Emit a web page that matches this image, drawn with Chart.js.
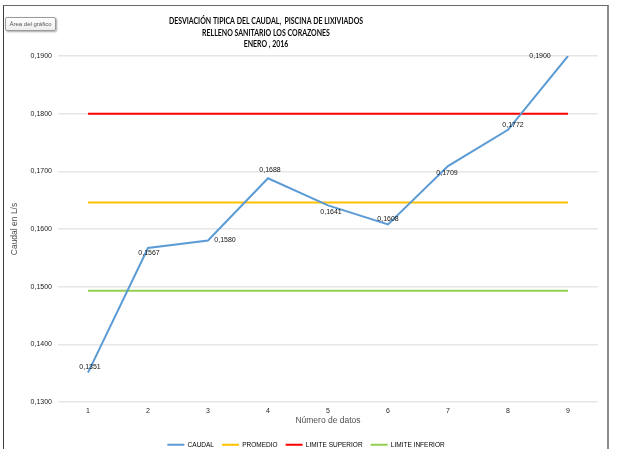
<!DOCTYPE html>
<html>
<head>
<meta charset="utf-8">
<script src="https://cdn.jsdelivr.net/npm/chart.js@4.4.1/dist/chart.umd.min.js"></script>
<style>
  html, body { margin: 0; padding: 0; background: #ffffff; overflow: hidden; }
  #wrap { position: relative; width: 618px; height: 449px; overflow: hidden; background: #fff; }
  #box { position: absolute; left: 0; top: 0; width: 618px; height: 458px; }
  #frame {
    position: absolute; left: 3px; top: 5px; width: 603px; height: 460px;
    border-left: 1px solid #3c3c3c; border-top: 1px solid #6a6a6a; border-right: 2px solid #8c8c8c;
    pointer-events: none;
  }
  #hint {
    position: absolute; left: 5px; top: 17px; width: 49px; height: 12px;
    border: 1px solid #9a9a9a; border-radius: 2px;
    background: linear-gradient(#ffffff, #eeeeee);
    box-shadow: 1px 1px 2px rgba(0,0,0,0.35);
    font: 6px "Liberation Sans", Arial, sans-serif; color: #555;
    line-height: 12px; text-align: center; white-space: nowrap; overflow: hidden;
  }
</style>
</head>
<body>
<div id="wrap">
  <div id="box"><canvas id="chart" width="618" height="458"></canvas></div>
  <div id="frame"></div>
  <div id="hint">Área del gráfico</div>
</div>
<script>
// Número de datos (eje X)
const categories = ['1', '2', '3', '4', '5', '6', '7', '8', '9'];
// Caudal medido en L/s
const caudal = [0.1351, 0.1567, 0.1580, 0.1688, 0.1641, 0.1608, 0.1709, 0.1772, 0.1900];
// Media y límites (± una desviación típica)
const promedio = [0.1646, 0.1646, 0.1646, 0.1646, 0.1646, 0.1646, 0.1646, 0.1646, 0.1646];
const limiteSuperior = [0.1800, 0.1800, 0.1800, 0.1800, 0.1800, 0.1800, 0.1800, 0.1800, 0.1800];
const limiteInferior = [0.1493, 0.1493, 0.1493, 0.1493, 0.1493, 0.1493, 0.1493, 0.1493, 0.1493];
// Etiquetas del eje Y
const yTickValues = [0.13, 0.14, 0.15, 0.16, 0.17, 0.18, 0.19];
const yTickLabels = ['0,1300', '0,1400', '0,1500', '0,1600', '0,1700', '0,1800', '0,1900'];
// Título
const titleLines = ['DESVIACIÓN TIPICA DEL CAUDAL,  PISCINA DE LIXIVIADOS', 'RELLENO SANITARIO LOS CORAZONES', 'ENERO , 2016'];

// Desplazamiento de cada etiqueta de valor respecto a su punto (px)
const labelShift = [[2, -6], [1, 5], [17, 0], [2, -8], [3, 7], [0, -5], [-1, 7], [5, -5], [-28, 0]];

const fmt = v => v.toFixed(4).replace('.', ',');

// Título en tres líneas, con letra estrecha
const titlePlugin = {
  id: 'titleBlock',
  afterDraw(chart) {
    const ctx = chart.ctx;
    const sx = 0.82;
    ctx.save();
    ctx.scale(sx, 1);
    ctx.fillStyle = '#0a0a0a';
    ctx.font = 'bold 8.5px Lato, "Liberation Sans", sans-serif';
    ctx.textAlign = 'center';
    ctx.textBaseline = 'middle';
    const ys = [21, 33, 44];
    titleLines.forEach((t, i) => ctx.fillText(t, 266 / sx, ys[i]));
    ctx.restore();
  }
};

const valueLabels = {
  id: 'valueLabels',
  afterDatasetsDraw(chart) {
    const meta = chart.getDatasetMeta(0);
    const ctx = chart.ctx;
    ctx.save();
    ctx.fillStyle = '#111111';
    ctx.font = '7px "Liberation Sans", Arial, sans-serif';
    ctx.textAlign = 'center';
    ctx.textBaseline = 'middle';
    meta.data.forEach((pt, i) => {
      const [dx, dy] = labelShift[i];
      ctx.fillText(fmt(caudal[i]), pt.x + dx, pt.y + dy);
    });
    ctx.restore();
  }
};

const series = (label, data, color, order) => ({
  label, data, borderColor: color, backgroundColor: color,
  borderWidth: 2, pointRadius: 0, pointHoverRadius: 0, tension: 0, fill: false, order
});

new Chart(document.getElementById('chart'), {
  type: 'line',
  data: {
    labels: categories,
    datasets: [
      series('CAUDAL', caudal, '#5B9BD5', 0),
      series('PROMEDIO', promedio, '#FFC000', 1),
      series('LIMITE SUPERIOR', limiteSuperior, '#FF0000', 2),
      series('LIMITE INFERIOR', limiteInferior, '#92D050', 3)
    ]
  },
  options: {
    responsive: false,
    animation: false,
    devicePixelRatio: 1,
    layout: { padding: { left: 14, right: 20, top: 56, bottom: 0 } },
    plugins: {
      title: { display: false },
      tooltip: { enabled: false },
      legend: {
        position: 'bottom',
        labels: {
          boxWidth: 17,
          boxHeight: 2,
          padding: 8,
          color: '#595959',
          font: { family: '"Liberation Sans", Arial, sans-serif', size: 6.5 },
          generateLabels(chart) {
            return chart.data.datasets.map((ds, i) => ({
              text: ds.label, fillStyle: ds.borderColor, strokeStyle: ds.borderColor,
              lineWidth: 0, hidden: false, datasetIndex: i
            }));
          }
        }
      }
    },
    scales: {
      x: {
        offset: true,
        grid: { display: false, drawTicks: false },
        border: { display: false },
        ticks: { color: '#262626', padding: 5, font: { family: '"Liberation Sans", Arial, sans-serif', size: 7 } },
        title: {
          display: true, text: 'Número de datos', color: '#505050',
          font: { family: '"Liberation Sans", Arial, sans-serif', size: 8.5 },
          padding: { top: 0, bottom: 7.5 }
        },
        afterFit(scale) { scale.height = 31.5; }
      },
      y: {
        min: 0.13, max: 0.19,
        afterBuildTicks(scale) { scale.ticks = yTickValues.map(v => ({ value: v })); },
        grid: { color: '#e6e6e6', lineWidth: 1.5, drawTicks: false },
        border: { display: false },
        ticks: {
          color: '#1a1a1a', padding: 6,
          font: { family: '"Liberation Sans", Arial, sans-serif', size: 7 },
          callback: (v, i) => yTickLabels[i]
        },
        title: {
          display: true, text: 'Caudal en L/s', color: '#505050',
          font: { family: '"Liberation Sans", Arial, sans-serif', size: 8.5 },
          padding: { top: -4, bottom: 0 }
        },
        afterFit(scale) { scale.width = 44; }
      }
    }
  },
  plugins: [titlePlugin, valueLabels]
});
</script>
</body>
</html>
